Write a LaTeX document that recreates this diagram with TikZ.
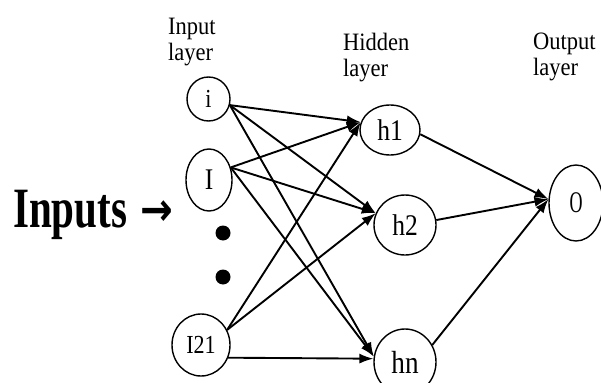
\documentclass[tikz,border=0pt]{standalone}
\usepackage{graphicx}
\usepackage{fontspec}
\setmainfont{Liberation Serif}
\newfontfamily\arrowfont{DejaVu Sans}
\usetikzlibrary{shapes.geometric,arrows.meta}
\newcommand{\fsz}[1]{\fontsize{#1}{26}\selectfont}
\newcommand{\sq}[3][0.85]{\scalebox{#1}[1]{\fsz{#2}#3}}
\begin{document}
\begin{tikzpicture}[x=1pt,y=-1pt,
  neuron/.style={draw, ellipse, line width=1.4pt, inner sep=0pt},
  conn/.style={line width=1.9pt, -{Latex[length=14pt,width=10pt]}},
  lbl/.style={align=left, anchor=north west, inner sep=0pt, xscale=0.9, font=\fsz{25}},
  dot/.style={circle, fill=black, inner sep=0pt, minimum size=15pt}
]
\path[use as bounding box] (0,0) rectangle (601,382);
\clip (0,0) rectangle (601,382);

% layer labels
\node[lbl] (lin) at (168,18) {Input\\layer};
\node[lbl] (lhid) at (343,33) {Hidden\\layer};
\node[lbl] (lout) at (533,33) {Output\\layer};

% inputs label
\node[anchor=base west, inner sep=0pt] (inp) at (13,227)
  {\scalebox{0.72}[1]{\bfseries\fontsize{57}{57}\selectfont Inputs}\hspace{13pt}\raisebox{2pt}{\scalebox{0.85}[1]{\arrowfont\bfseries\fontsize{46}{46}\selectfont →}}};

% neurons
\node[neuron, minimum width=43pt, minimum height=44pt] (i) at (208.5,99) {\sq{26}{i}};
\node[neuron, minimum width=46pt, minimum height=62pt] (I) at (209,180) {\sq{30}{I}};
\node[neuron, minimum width=58pt, minimum height=62pt] (I21) at (201,345) {\sq{26}{I21}};
\node[dot] (d1) at (223,233) {};
\node[dot] (d2) at (223,277) {};

\node[neuron, minimum width=60pt, minimum height=50pt] (h1) at (390,130) {\sq{30}{h1}};
\node[neuron, minimum width=62pt, minimum height=60pt] (h2) at (405,225) {\sq{30}{h2}};
\node[neuron, minimum width=62pt, minimum height=66pt] (hn) at (405,362) {\sq{32}{hn}};

\node[neuron, minimum width=54pt, minimum height=76pt] (O) at (576,203) {\sq[0.6]{30}{O}};

% connections input -> hidden
\draw[conn] (i.-16) -- (h1.165);
\draw[conn] (i.-16) -- (h2.158);
\draw[conn] (i.-16) -- (hn.170);
\draw[conn] (I.30) -- (h1.165);
\draw[conn] (I.30) -- (h2.158);
\draw[conn] (I.30) -- (hn.170);
\draw[conn] (I21.30) -- (h1.165);
\draw[conn] (I21.30) -- (h2.158);
\draw[conn] (I21.-25) -- (hn.174);

% hidden -> output
\draw[conn] (h1.-8) -- (O.172);
\draw[conn] (h2.9) -- (O.172);
\draw[conn] (hn.32) -- (O.172);
\end{tikzpicture}
\end{document}
